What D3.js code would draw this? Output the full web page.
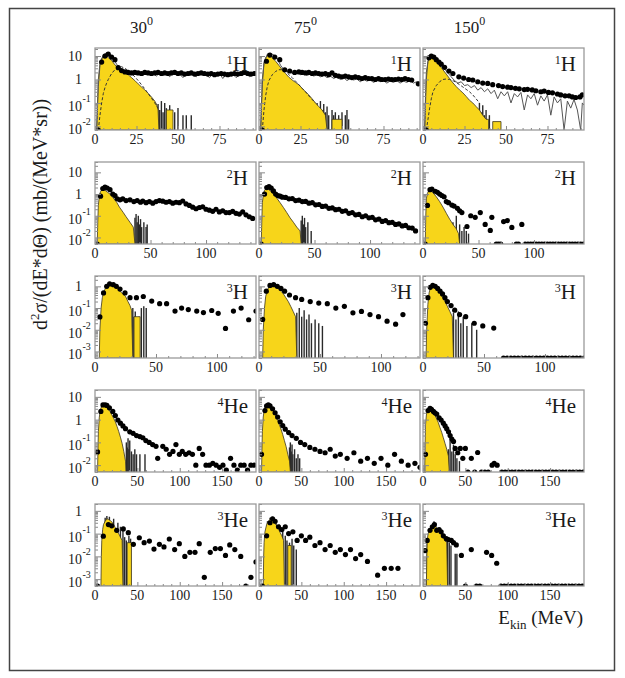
<!DOCTYPE html>
<html>
<head>
<meta charset="utf-8">
<script src="https://cdn.jsdelivr.net/npm/d3@7"></script>
<style>
body { margin: 0; background: #fff; }
svg { display: block; font-family: "Liberation Serif", "DejaVu Serif", serif; }
</style>
</head>
<body>
<svg id="chart" width="625" height="678"></svg>
<script>

// ---- panel labels / axes
var angles = ["30", "75", "150"];
var particle_mass = ["1", "2", "3", "4", "3"];
var particle_sym  = ["H", "H", "H", "He", "He"];
var x_max   = [97, 145, 132, 190, 190];
var y_ext   = [[0.007, 22], [0.005, 30], [0.0005, 3], [0.005, 20], [0.0005, 2]];
var x_ticks = [[0, 25, 50, 75], [0, 50, 100], [0, 50, 100], [0, 50, 100, 150], [0, 50, 100, 150]];
var y_ticks = [[0.01, 0.1, 1, 10], [0.01, 0.1, 1, 10], [0.001, 0.01, 0.1, 1], [0.01, 0.1, 1, 10], [0.001, 0.01, 0.1, 1]];

// ---- 1H
var dots_1H_30 = [[2,0.007],[4,5.5],[6,10],[8,12],[10,9],[12,7],[14,3.2],[16,2.4],[18,2.1],[20,2.0],[22,1.9],[24,2.0],[26,1.9],[28,1.8],[30,2.0],[32,1.9],[34,1.8],[36,1.9],[38,2.0],[40,1.8],[42,1.9],[44,1.8],[46,1.9],[48,2.0],[50,1.8],[52,1.9],[54,1.7],[56,1.8],[58,1.9],[60,1.7],[62,1.8],[64,1.9],[66,1.8],[68,1.7],[70,1.8],[72,1.6],[74,1.7],[76,1.8],[78,1.7],[80,1.6],[82,1.7],[84,1.8],[86,1.7],[88,1.8],[90,2.0],[92,1.8],[94,1.7],[96,1.8]];
var model_1H_30 = [[1,0.007],[2,0.5],[3,4],[5,11],[7,14],[9,12],[11,8],[13,4.5],[15,3],[17,2.3],[19,2.0],[21,1.7],[23,2.1],[25,1.6],[27,1.9],[29,1.5],[31,2.0],[33,1.6],[35,1.8],[37,1.4],[39,1.9],[41,1.5],[43,1.8],[45,1.3],[47,1.9],[49,1.6],[51,1.7],[53,1.2],[55,1.8],[57,1.5],[59,1.7],[61,1.3],[63,1.9],[65,1.5],[67,1.6],[69,1.2],[71,1.7],[73,1.4],[75,1.8],[77,1.1],[79,1.6],[81,1.4],[83,1.7],[85,1.2],[87,1.6],[89,1.5],[91,1.9],[93,1.3],[95,1.7],[97,1.6]];
var dashed_1H_30 = [[2,0.007],[3,0.03],[4,0.1],[5,0.25],[6,0.45],[7,0.7],[8,1.0],[10,1.8],[12,2.6],[14,3.3],[16,3.5],[18,3.0],[20,2.4],[22,1.8],[24,1.3],[26,0.9],[28,0.6],[30,0.4],[32,0.25],[34,0.16],[36,0.1],[38,0.06]];
var yellow_1H_30 = [[1,0.007],[1.5,0.1],[2,1],[3,5],[4,8],[5,10],[6,11],[7,10],[8,8.5],[10,6.5],[12,4.2],[14,3.2],[16,2.5],[18,2.0],[20,1.6],[22,1.2],[24,0.9],[26,0.65],[28,0.48],[30,0.36],[32,0.26],[34,0.18],[36,0.12],[37,0.09],[38,0.05],[38.5,0.007],[43,0.007],[43,0.05],[47,0.05],[47,0.007]];
var spikes_1H_30 = [[38,0.09],[39,0.05],[40,0.12],[41,0.04],[42,0.1],[43,0.06],[44,0.03],[45,0.08],[46,0.05],[48,0.04],[50,0.06],[53,0.03],[55,0.03],[58,0.03]];

var dots_1H_75 = [[2,0.007],[4.5,6],[6.5,11],[9.5,9],[12.5,7],[15.5,2.6],[18.5,2.3],[21.5,2.0],[24,2.1],[26,2.0],[28,1.9],[30,2.0],[32,1.8],[34,1.9],[36,1.8],[38,1.7],[40,1.8],[42,1.6],[44,1.9],[46,1.5],[48,1.4],[50,1.3],[52,1.4],[54,1.3],[56,1.2],[58,1.3],[60,1.2],[62,1.1],[64,1.2],[66,1.1],[68,1.1],[70,1.0],[72,1.1],[74,1.0],[76,1.0],[78,1.05],[80,1.0],[82,1.0],[84,1.05],[86,1.0],[88,1.1],[90,1.0],[92,0.95],[96,0.65]];
var model_1H_75 = [[1,0.007],[2,0.6],[3,5],[5,12],[7,13],[9,11],[11,8],[13,4],[15,2.6],[17,2.2],[19,2.0],[21,1.7],[23,2.0],[25,1.6],[27,1.8],[29,1.5],[31,1.7],[33,1.4],[35,1.6],[37,1.3],[39,1.5],[41,1.2],[43,1.4],[45,1.1],[47,1.3],[49,1.0],[51,1.2],[53,0.9],[55,1.1],[57,0.95],[59,1.05],[61,0.8],[63,1.0],[65,0.85],[67,0.95],[69,0.75],[71,0.9],[73,0.8],[75,0.9],[77,0.7],[79,0.85],[81,0.75],[83,0.9],[85,0.7],[87,0.85],[89,0.75],[91,0.9],[93,0.7],[95,0.8],[97,0.75]];
var dashed_1H_75 = [[2,0.007],[3,0.05],[4,0.2],[5,0.5],[6,0.9],[8,1.6],[10,2.2],[12,2.6],[14,2.6],[16,2.2],[18,1.6],[20,1.2],[22,0.85],[24,0.6],[26,0.42],[28,0.3],[30,0.2],[32,0.14],[34,0.1]];
var yellow_1H_75 = [[1,0.007],[1.5,0.1],[2,1],[3,5],[4,8.5],[5,10.5],[6,11],[7,10],[8,8.5],[10,6],[12,4],[14,2.6],[16,1.8],[18,1.25],[20,0.95],[22,0.75],[24,0.6],[26,0.42],[28,0.3],[30,0.22],[32,0.15],[34,0.1],[36,0.07],[38,0.05],[40,0.03],[41,0.007],[44,0.007],[44,0.02],[50,0.02],[50,0.007]];
var spikes_1H_75 = [[35,0.1],[36,0.06],[37,0.12],[38,0.05],[39,0.09],[40,0.04],[41,0.07],[42,0.03],[44,0.05],[45,0.03],[46,0.04],[48,0.03],[50,0.04],[52,0.03],[53,0.05],[54,0.02]];

var dots_1H_150 = [[2,0.007],[3.6,8.4],[5,10],[6.5,9],[8,7],[9.6,5.5],[11,4.5],[13,3.3],[15.6,2.3],[18,1.8],[21.6,1.3],[24.5,1.15],[27.5,1.0],[30,0.95],[33,0.8],[36,0.7],[39,0.68],[42,0.6],[45.5,0.55],[48,0.5],[51,0.47],[53,0.45],[55.7,0.42],[58,0.4],[61,0.37],[63,0.38],[65.8,0.36],[68,0.33],[71,0.3],[73,0.32],[75.6,0.28],[78,0.27],[81,0.24],[83,0.22],[85.6,0.2],[88,0.2],[90,0.18],[92,0.17],[94.6,0.18],[96,0.22]];
var model_1H_150 = [[1,0.007],[2,1],[3,6],[4,9],[5,10],[7,8.5],[9,6],[11,4],[13,2.8],[15,1.9],[17,1.3],[19,0.9],[21,0.7],[23,0.8],[25,0.55],[27,0.6],[29,0.45],[31,0.55],[33,0.35],[35,0.45],[37,0.3],[39,0.4],[41,0.25],[43,0.35],[45,0.15],[47,0.3],[49,0.2],[51,0.3],[53,0.1],[55,0.25],[57,0.18],[59,0.28],[61,0.05],[63,0.22],[65,0.15],[67,0.25],[69,0.08],[71,0.2],[73,0.12],[75,0.22],[77,0.03],[79,0.18],[81,0.1],[83,0.15],[85,0.007],[87,0.12],[89,0.06],[91,0.14],[93,0.05],[95,0.007],[96,0.1],[97,0.08]];
var dashed_1H_150 = [[2,0.007],[3,0.02],[4,0.06],[5,0.15],[6,0.3],[8,0.55],[10,0.8],[12,1.0],[14,1.05],[16,1.0],[18,0.9],[20,0.75],[22,0.6],[24,0.48],[26,0.38],[28,0.3],[30,0.22],[32,0.15],[34,0.1]];
var yellow_1H_150 = [[1,0.007],[1.5,0.2],[2,2],[3,6],[4,9],[5,10],[6,9],[7,7.5],[8,6],[10,4],[12,2.6],[14,1.7],[16,1.1],[18,0.72],[20,0.5],[22,0.36],[24,0.27],[26,0.19],[28,0.13],[30,0.1],[32,0.07],[34,0.05],[36,0.03],[38,0.02],[39.5,0.02],[39.5,0.007],[42,0.007],[42,0.016],[47,0.016],[47,0.007]];
var spikes_1H_150 = [[33,0.05],[34,0.1],[35,0.04],[36,0.08],[37,0.03],[38,0.05],[40,0.03]];

// ---- 2H
var dots_2H_30 = [[2,0.005],[5,0.8],[7,1.8],[9,2.1],[11,1.9],[13.5,1.6],[16,1.0],[18,0.85],[20,0.6],[22.5,0.54],[25,0.6],[28,0.5],[31.5,0.54],[35,0.45],[38,0.5],[41,0.42],[43,0.48],[46,0.4],[49,0.45],[52,0.38],[55,0.45],[58,0.5],[61,0.47],[64,0.42],[67,0.45],[70,0.38],[73,0.42],[76,0.4],[79,0.48],[82,0.35],[85,0.3],[88,0.25],[91,0.21],[94,0.24],[97,0.26],[100,0.2],[103,0.18],[106,0.16],[109,0.2],[112,0.15],[115,0.17],[118,0.14],[121,0.14],[124,0.16],[127,0.13],[130,0.12],[133,0.15],[136,0.11],[139,0.09],[142,0.075]];
var yellow_2H_30 = [[2,0.005],[2.5,0.05],[3,0.3],[4,0.9],[5,1.3],[6,1.5],[7.5,1.6],[9,1.5],[11,1.25],[13.5,1.0],[16,0.7],[19.5,0.42],[22,0.25],[25.5,0.14],[28,0.09],[31.5,0.05],[34.5,0.03],[36,0.005]];
var spikes_2H_30 = [[36,0.08],[37,0.12],[38,0.05],[39,0.1],[40,0.04],[41,0.07],[42,0.03],[44,0.05],[46,0.03],[47,0.04]];

var dots_2H_75 = [[2,0.005],[5,1.0],[7,2.0],[9,2.2],[11,1.9],[13,1.4],[15,1.0],[17,0.85],[19,0.8],[21,0.72],[24,0.7],[27,0.6],[30,0.62],[33,0.5],[36,0.52],[39,0.45],[42,0.46],[45,0.38],[48,0.4],[51,0.32],[54,0.33],[57,0.27],[60,0.28],[63,0.22],[66,0.23],[69,0.19],[72,0.2],[75,0.16],[78,0.17],[81,0.13],[84,0.14],[87,0.11],[90,0.115],[93,0.09],[96,0.1],[99,0.08],[102,0.085],[105,0.065],[108,0.07],[111,0.055],[114,0.06],[117,0.048],[120,0.05],[123,0.04],[126,0.042],[129,0.034],[132,0.036],[135,0.028],[138,0.027],[141,0.02]];
var yellow_2H_75 = [[2,0.005],[2.5,0.05],[3,0.4],[4,1.0],[5,1.5],[6,1.7],[7.5,1.8],[9,1.6],[11,1.3],[13,1.0],[16,0.65],[19,0.4],[22,0.24],[25,0.14],[28,0.08],[31,0.05],[34,0.03],[37,0.02],[38,0.005]];
var spikes_2H_75 = [[38,0.06],[39,0.1],[40,0.04],[41,0.08],[42,0.03],[44,0.05],[47,0.02]];

var dots_2H_150 = [[2,0.005],[4,0.3],[6.3,1.6],[8,1.7],[11,1.35],[13,1.2],[15,1.0],[17,0.86],[19,0.75],[21,0.45],[23,0.4],[26,0.31],[28,0.28],[31,0.22],[33,0.17],[35,0.14],[39.6,0.032],[43,0.1],[47,0.085],[51.6,0.14],[56,0.04],[60.6,0.021],[62,0.085],[72.6,0.054],[76,0.06],[80,0.029],[89,0.04]];
var zeros_2H_150 = [66,68,70,84,86,92,94.5,97,99.5,102,104.5,107,109.5,112,114.5,117,119.5,122,124.5,127,129.5,132,134.5,137,139.5,142,144.5];
var yellow_2H_150 = [[2,0.005],[2.5,0.1],[3,0.6],[4,1.1],[5,1.35],[6,1.4],[8,1.3],[10,1.0],[12,0.75],[15,0.45],[18,0.25],[21,0.13],[24,0.07],[27,0.04],[30,0.025],[32,0.015],[33,0.005]];
var spikes_2H_150 = [[27,0.05],[30,0.1],[33,0.04],[35,0.02],[37,0.03],[39,0.02],[41,0.015]];

// ---- 3H
var dots_3H_30 = [[4,0.039],[7,0.5],[9.6,1.0],[12,1.3],[15,1.2],[17.5,1.0],[20.5,0.75],[24.6,0.5],[28.7,0.3],[34,0.3],[39.6,0.34],[46.5,0.21],[53,0.16],[58.7,0.16],[65.6,0.073],[71,0.1],[76.5,0.085],[83.4,0.073],[88.9,0.062],[95.7,0.077],[101,0.057],[107,0.0115],[113.5,0.073],[119.8,0.1],[126,0.029],[132,0.073]];
var yellow_3H_30 = [[3.5,0.0005],[4,0.01],[5,0.1],[6,0.3],[7,0.5],[8,0.7],[9,1.0],[10,1.2],[11,1.4],[12,1.3],[13,1.2],[15,1.25],[17,1.1],[19,0.8],[21,0.55],[23,0.45],[25,0.35],[27,0.2],[28.7,0.13],[30,0.08],[31,0.0005],[32,0.0005],[32,0.04],[37,0.04],[37,0.0005]];
var spikes_3H_30 = [[31,0.1],[32,0.04],[33,0.07],[36,0.04],[38,0.1],[40,0.12],[42,0.1]];

var dots_3H_75 = [[3,0.03],[6,0.6],[9,1.1],[12,1.2],[15,1.0],[18,0.8],[21,0.6],[25,0.4],[30,0.3],[35,0.25],[42,0.2],[49,0.17],[56,0.16],[63,0.1],[70,0.12],[77,0.06],[84,0.07],[91,0.05],[98,0.04],[105,0.025],[112,0.018],[118,0.05]];
var yellow_3H_75 = [[3,0.0005],[3.5,0.01],[4.5,0.1],[5.5,0.35],[7,0.7],[8.5,1.0],[10,1.1],[12,1.05],[14,0.95],[16,0.8],[18,0.6],[20,0.45],[22,0.3],[24,0.2],[26,0.12],[28,0.07],[30,0.04],[31,0.0005]];
var spikes_3H_75 = [[31,0.06],[33,0.1],[35,0.04],[37,0.08],[39,0.03],[41,0.05],[43,0.02],[46,0.03],[49,0.02],[52,0.015]];

var dots_3H_150 = [[2,0.02],[4,0.3],[6,0.9],[8,1.1],[10,1.0],[12,0.8],[14,0.6],[16,0.45],[18,0.3],[20,0.2],[23,0.13],[26,0.08],[30,0.05],[35,0.04],[42,0.02],[49,0.015],[58,0.012]];
var zeros_3H_150 = [66,69,72,75,78,81,84,87,90,93,96,99,102,105,108,111,114,117,120,123,126,129,132];
var yellow_3H_150 = [[2.5,0.0005],[3,0.01],[4,0.15],[5,0.5],[6,0.85],[8,1.0],[10,0.9],[12,0.7],[14,0.5],[16,0.32],[18,0.2],[20,0.12],[22,0.07],[24,0.04],[25,0.0005]];
var spikes_3H_150 = [[25,0.06],[27,0.03],[29,0.07],[31,0.02],[33,0.04],[36,0.015],[40,0.02],[44,0.01]];

// ---- 4He
var dots_4He_30 = [[3,0.038],[6.9,2.3],[9.4,4.4],[12,4.5],[14,4.2],[17,3.3],[21,2.3],[24,1.5],[27,0.95],[30,0.7],[33,0.53],[36,0.4],[41,0.29],[45,0.25],[49,0.2],[53,0.18],[56.5,0.16],[60,0.12],[64,0.1],[68,0.08],[72,0.067],[74,0.02],[80,0.067],[84,0.05],[88,0.03],[92,0.04],[95.5,0.08],[99.5,0.03],[103,0.04],[107,0.03],[111,0.035],[115,0.03],[119,0.01],[123,0.054],[127,0.03],[131,0.01],[135,0.01],[139,0.012],[143,0.01],[147,0.008],[151,0.01],[155,0.006],[160,0.02],[164,0.01],[168,0.006],[172,0.01],[176,0.01],[180,0.006],[184,0.01],[188,0.01]];
var yellow_4He_30 = [[3,0.005],[3.5,0.05],[4,0.3],[5,1.2],[6,2.3],[7,3.2],[8,3.8],[10,4.1],[12,3.9],[14,3.4],[16,2.8],[18,2.2],[20,1.6],[22,1.15],[24,0.8],[26,0.5],[28,0.3],[30,0.17],[32,0.09],[34,0.04],[36,0.015],[36.5,0.005]];
var spikes_4He_30 = [[37,0.1],[38,0.06],[39,0.15],[40,0.05],[41,0.12],[43,0.04],[45,0.03],[47,0.05],[49,0.03],[53,0.03],[59,0.03]];

var dots_4He_75 = [[3,0.03],[7,2.5],[9,4.0],[11,4.4],[13,4.0],[16,3.0],[19,2.0],[22,1.3],[25,0.8],[28,0.55],[31,0.38],[35,0.27],[39,0.2],[44,0.15],[49,0.1],[54,0.08],[60,0.06],[66,0.05],[72,0.04],[78,0.035],[84,0.05],[90,0.025],[96,0.03],[104,0.02],[112,0.035],[120,0.015],[128,0.02],[136,0.012],[144,0.02],[152,0.01],[160,0.03],[168,0.015],[176,0.01],[184,0.012],[190,0.008]];
var yellow_4He_75 = [[3,0.005],[3.5,0.05],[4,0.3],[5,1.3],[6,2.5],[7,3.4],[8,4.0],[10,4.3],[12,4.0],[14,3.4],[16,2.7],[18,2.0],[20,1.4],[22,0.95],[24,0.6],[26,0.38],[28,0.22],[30,0.12],[32,0.065],[34,0.03],[36,0.015],[37,0.005]];
var spikes_4He_75 = [[36,0.06],[37,0.1],[38,0.04],[39,0.08],[40,0.03],[42,0.05],[44,0.02],[46,0.03],[48,0.02]];

var dots_4He_150 = [[3,0.03],[6,2.5],[8.3,3.1],[10,2.8],[12.3,2.3],[14,2.0],[16.2,1.75],[19,1.2],[21.4,0.95],[24,0.7],[26.1,0.53],[28,0.4],[30.1,0.29],[32,0.2],[34,0.14],[36,0.11],[38,0.054],[41,0.035],[44,0.054],[47,0.02],[50,0.054],[57,0.02],[64.5,0.036],[81.5,0.01],[84,0.012],[87.5,0.01]];
var zeros_4He_150 = [53,61,69,73,77,93,97,101,105,109,113,117,121,125,129,133,137,141,145,149,153,157,161,165,169,173,177,181,185,189];
var yellow_4He_150 = [[2,0.005],[2.5,0.1],[3,0.6],[4,1.6],[5,2.5],[6,3.0],[8,3.2],[10,2.8],[12,2.2],[14,1.6],[16,1.1],[18,0.75],[20,0.45],[22,0.28],[24,0.16],[26,0.09],[28,0.05],[30,0.025],[31,0.005]];
var spikes_4He_150 = [[30,0.05],[32,0.12],[34,0.04],[36,0.08],[38,0.03],[40,0.02],[43,0.015]];

// ---- 3He
var dots_3He_30 = [[9.8,0.077],[15.8,0.25],[19.7,0.22],[25.6,0.14],[33.4,0.16],[39.3,0.11],[45.3,0.034],[52.3,0.066],[58,0.04],[64.2,0.047],[69.6,0.021],[76,0.034],[81.4,0.026],[87.7,0.058],[94,0.02],[99.5,0.036],[106,0.01],[112,0.015],[118,0.015],[123,0.036],[129,0.0012],[136,0.015],[142,0.022],[148,0.022],[154,0.011],[159,0.032],[165,0.02],[172,0.01],[184,0.0012],[190,0.0057]];
var zeros_3He_30 = [3, 178];
var yellow_3He_30 = [[7,0.0005],[7.5,0.01],[8,0.05],[9,0.15],[10,0.25],[12,0.35],[14,0.45],[16,0.42],[18,0.38],[20,0.32],[22,0.25],[24,0.18],[26,0.12],[28,0.1],[30,0.07],[32,0.05],[33,0.0005],[38,0.0005],[38,0.04],[43,0.04],[43,0.0005]];
var spikes_3He_30 = [[12,0.5],[14,0.6],[17,0.55],[22,0.45],[27,0.3],[30,0.2],[33,0.15],[35,0.07],[37,0.05],[40,0.08],[42,0.06]];

var dots_3He_75 = [[9,0.08],[13,0.3],[16,0.45],[19,0.35],[23,0.2],[27,0.15],[31,0.2],[35,0.1],[40,0.12],[45,0.05],[50,0.08],[55,0.05],[60,0.07],[66,0.03],[72,0.04],[78,0.02],[84,0.03],[90,0.015],[96,0.02],[102,0.012],[108,0.02],[114,0.008],[120,0.012],[128,0.006],[140,0.0015],[148,0.003],[156,0.003],[164,0.003]];
var zeros_3He_75 = [4];
var yellow_3He_75 = [[5,0.0005],[5.5,0.01],[6,0.04],[7,0.12],[9,0.25],[11,0.35],[13,0.42],[15,0.4],[17,0.35],[19,0.28],[21,0.22],[23,0.16],[25,0.11],[27,0.08],[29,0.05],[30,0.0005],[34,0.0005],[34,0.03],[38,0.03],[38,0.0005]];
var spikes_3He_75 = [[10,0.35],[13,0.5],[16,0.55],[20,0.4],[24,0.25],[28,0.12],[31,0.08],[33,0.05],[36,0.04],[39,0.06],[41,0.03],[44,0.02]];

var dots_3He_150 = [[2.4,0.018],[5,0.05],[8.3,0.14],[11,0.2],[13.4,0.25],[16.2,0.14],[19,0.15],[21.4,0.12],[24,0.08],[27.5,0.06],[30,0.055],[33.4,0.05],[36,0.04],[39.3,0.032],[45.3,0.011],[57,0.02],[75,0.015],[81,0.011],[87,0.005]];
var zeros_3He_150 = [50,63,67,92,96,100,104,108,112,116,120,124,128,132,136,140,144,148,152,156,160,164,168,172,176,180,184,188];
var yellow_3He_150 = [[4,0.0005],[4.5,0.01],[5,0.05],[6,0.1],[8,0.16],[10,0.2],[12,0.22],[14,0.21],[16,0.18],[18,0.15],[20,0.12],[22,0.09],[24,0.07],[26,0.05],[28,0.04],[29,0.0005]];
var spikes_3He_150 = [[5,0.06],[7,0.1],[13,0.35],[15,0.3],[24,0.1],[27,0.07],[29,0.05],[31,0.04],[33,0.03],[38,0.013],[40,0.013]];

var panels = [
  [{dots: dots_1H_30, yellow: yellow_1H_30, spikes: spikes_1H_30, model: model_1H_30, dashed: dashed_1H_30},
   {dots: dots_1H_75, yellow: yellow_1H_75, spikes: spikes_1H_75, model: model_1H_75, dashed: dashed_1H_75},
   {dots: dots_1H_150, yellow: yellow_1H_150, spikes: spikes_1H_150, model: model_1H_150, dashed: dashed_1H_150}],
  [{dots: dots_2H_30, yellow: yellow_2H_30, spikes: spikes_2H_30},
   {dots: dots_2H_75, yellow: yellow_2H_75, spikes: spikes_2H_75},
   {dots: dots_2H_150, yellow: yellow_2H_150, spikes: spikes_2H_150, zeros: zeros_2H_150}],
  [{dots: dots_3H_30, yellow: yellow_3H_30, spikes: spikes_3H_30},
   {dots: dots_3H_75, yellow: yellow_3H_75, spikes: spikes_3H_75},
   {dots: dots_3H_150, yellow: yellow_3H_150, spikes: spikes_3H_150, zeros: zeros_3H_150}],
  [{dots: dots_4He_30, yellow: yellow_4He_30, spikes: spikes_4He_30},
   {dots: dots_4He_75, yellow: yellow_4He_75, spikes: spikes_4He_75},
   {dots: dots_4He_150, yellow: yellow_4He_150, spikes: spikes_4He_150, zeros: zeros_4He_150}],
  [{dots: dots_3He_30, yellow: yellow_3He_30, spikes: spikes_3He_30, zeros: zeros_3He_30},
   {dots: dots_3He_75, yellow: yellow_3He_75, spikes: spikes_3He_75, zeros: zeros_3He_75},
   {dots: dots_3He_150, yellow: yellow_3He_150, spikes: spikes_3He_150, zeros: zeros_3He_150}]
];

var svg = d3.select("#chart");
var col_x = [95, 259, 423];
var row_y = [48, 162, 276, 390, 504];
var pw = 161, ph = 82;
var txt = "#1a1a1a";

// outer frame
svg.append("rect")
    .attr("x", 9.5).attr("y", 8.5)
    .attr("width", 605).attr("height", 662)
    .attr("fill", "none").attr("stroke", "#444").attr("stroke-width", 1.5);

function grey_ticks(s) {
    s.select(".domain").remove();
    s.selectAll("line").attr("stroke", "#888");
}

function add_panel(r, c, p) {
    var x0 = col_x[c], y0 = row_y[r];
    var x = d3.scaleLinear().domain([0, x_max[r]]).range([x0, x0 + pw]);
    var y = d3.scaleLog().domain(y_ext[r]).range([y0 + ph, y0]).clamp(true);
    var ybot = y0 + ph;

    var clip_id = "clip_" + r + "_" + c;
    svg.append("clipPath").attr("id", clip_id)
        .append("rect").attr("x", x0).attr("y", y0).attr("width", pw).attr("height", ph);

    var g = svg.append("g").attr("clip-path", "url(#" + clip_id + ")");

    // spiky histogram tails, behind the yellow area
    g.selectAll(".spike").data(p.spikes).enter().append("line")
        .attr("x1", function(d) { return x(d[0]); })
        .attr("x2", function(d) { return x(d[0]); })
        .attr("y1", ybot)
        .attr("y2", function(d) { return y(d[1]); })
        .attr("stroke", "#2a2a2a").attr("stroke-width", 1.4);

    g.append("path").datum(p.yellow)
        .attr("fill", "#f7d51a").attr("stroke", "#3b3520").attr("stroke-width", 0.8)
        .attr("d", d3.area()
            .x(function(d) { return x(d[0]); })
            .y0(ybot)
            .y1(function(d) { return y(d[1]); }));

    if (p.model) {
        g.append("path").datum(p.model)
            .attr("fill", "none").attr("stroke", "#555").attr("stroke-width", 1)
            .attr("d", d3.line()
                .x(function(d) { return x(d[0]); })
                .y(function(d) { return y(d[1]); }));
    }
    if (p.dashed) {
        g.append("path").datum(p.dashed)
            .attr("fill", "none").attr("stroke", "#333").attr("stroke-width", 1)
            .attr("stroke-dasharray", "3,2")
            .attr("d", d3.line()
                .x(function(d) { return x(d[0]); })
                .y(function(d) { return y(d[1]); }));
    }

    g.selectAll(".dot").data(p.dots).enter().append("circle")
        .attr("cx", function(d) { return x(d[0]); })
        .attr("cy", function(d) { return y(d[1]); })
        .attr("r", 2.6).attr("fill", "#000");

    if (p.zeros) {
        g.selectAll(".zero").data(p.zeros).enter().append("circle")
            .attr("cx", function(d) { return x(d); })
            .attr("cy", ybot)
            .attr("r", 2.6).attr("fill", "#000");
    }

    // ticks inside the frame
    var minor_y = y.ticks().filter(function(v) { return y_ticks[r].indexOf(v) < 0; });
    svg.append("g").attr("transform", "translate(" + x0 + ",0)")
        .call(d3.axisRight(y).tickValues(minor_y).tickSize(3).tickFormat(""))
        .call(grey_ticks);
    svg.append("g").attr("transform", "translate(" + x0 + ",0)")
        .call(d3.axisRight(y).tickValues(y_ticks[r]).tickSize(6).tickFormat(""))
        .call(grey_ticks);

    var step = x_ticks[r][1] / 5;
    var minor_x = d3.range(0, x_max[r], step).filter(function(v) { return x_ticks[r].indexOf(v) < 0; });
    svg.append("g").attr("transform", "translate(0," + ybot + ")")
        .call(d3.axisTop(x).tickValues(minor_x).tickSize(2).tickFormat(""))
        .call(grey_ticks);
    svg.append("g").attr("transform", "translate(0," + ybot + ")")
        .call(d3.axisTop(x).tickValues(x_ticks[r]).tickSize(4).tickFormat(""))
        .call(grey_ticks);

    // frame
    svg.append("rect")
        .attr("x", x0).attr("y", y0).attr("width", pw).attr("height", ph)
        .attr("fill", "none").attr("stroke", "#9a9a9a").attr("stroke-width", 1.3);

    // x tick labels
    svg.append("g").selectAll("text").data(x_ticks[r]).enter().append("text")
        .attr("x", function(d) { return x(d); })
        .attr("y", ybot + 14)
        .attr("text-anchor", "middle")
        .attr("font-size", 14)
        .attr("fill", txt)
        .text(function(d) { return d; });

    // y tick labels, left column only
    if (c == 0) {
        y_ticks[r].forEach(function(v) {
            var ty = y(v);
            if (v >= 1) {
                svg.append("text").attr("x", 82).attr("y", ty + 5)
                    .attr("text-anchor", "end").attr("font-size", 14).attr("fill", txt).text(v);
            } else {
                svg.append("text").attr("x", 82).attr("y", ty + 8)
                    .attr("text-anchor", "end").attr("font-size", 14).attr("fill", txt).text("10");
                svg.append("text").attr("x", 82.5).attr("y", ty - 1)
                    .attr("font-size", 10).attr("fill", txt).text(Math.round(Math.log10(v)));
            }
        });
    }

    // particle label
    var lab = svg.append("text")
        .attr("x", x0 + pw - 8).attr("y", y0 + 23)
        .attr("text-anchor", "end")
        .attr("fill", txt);
    lab.append("tspan").attr("font-size", 12).attr("dy", -7).text(particle_mass[r]);
    lab.append("tspan").attr("font-size", 21).attr("dy", 7).text(particle_sym[r]);
}

for (var r = 0; r < 5; r++) {
    for (var c = 0; c < 3; c++) {
        add_panel(r, c, panels[r][c]);
    }
}

// column headers
angles.forEach(function(a, c) {
    var t = svg.append("text")
        .attr("x", col_x[c] + pw / 2 - 34).attr("y", 33)
        .attr("text-anchor", "middle")
        .attr("fill", txt);
    t.append("tspan").attr("font-size", 17).text(a);
    t.append("tspan").attr("font-size", 12).attr("dy", -8).text("0");
});

// y title
var yt = svg.append("text")
    .attr("transform", "translate(47,330) rotate(-90)")
    .attr("font-size", 20)
    .attr("fill", txt);
yt.append("tspan").text("d");
yt.append("tspan").attr("font-size", 13).attr("dy", -8).text("2");
yt.append("tspan").attr("dy", 8).text("\u03c3/(dE*d\u0398) (mb/(MeV*sr))");

// x title
var xt = svg.append("text")
    .attr("x", 583).attr("y", 624)
    .attr("text-anchor", "end")
    .attr("font-size", 19)
    .attr("fill", txt);
xt.append("tspan").text("E");
xt.append("tspan").attr("font-size", 13).attr("dy", 5).text("kin");
xt.append("tspan").attr("dy", -5).text(" (MeV)");

</script>
</body>
</html>
